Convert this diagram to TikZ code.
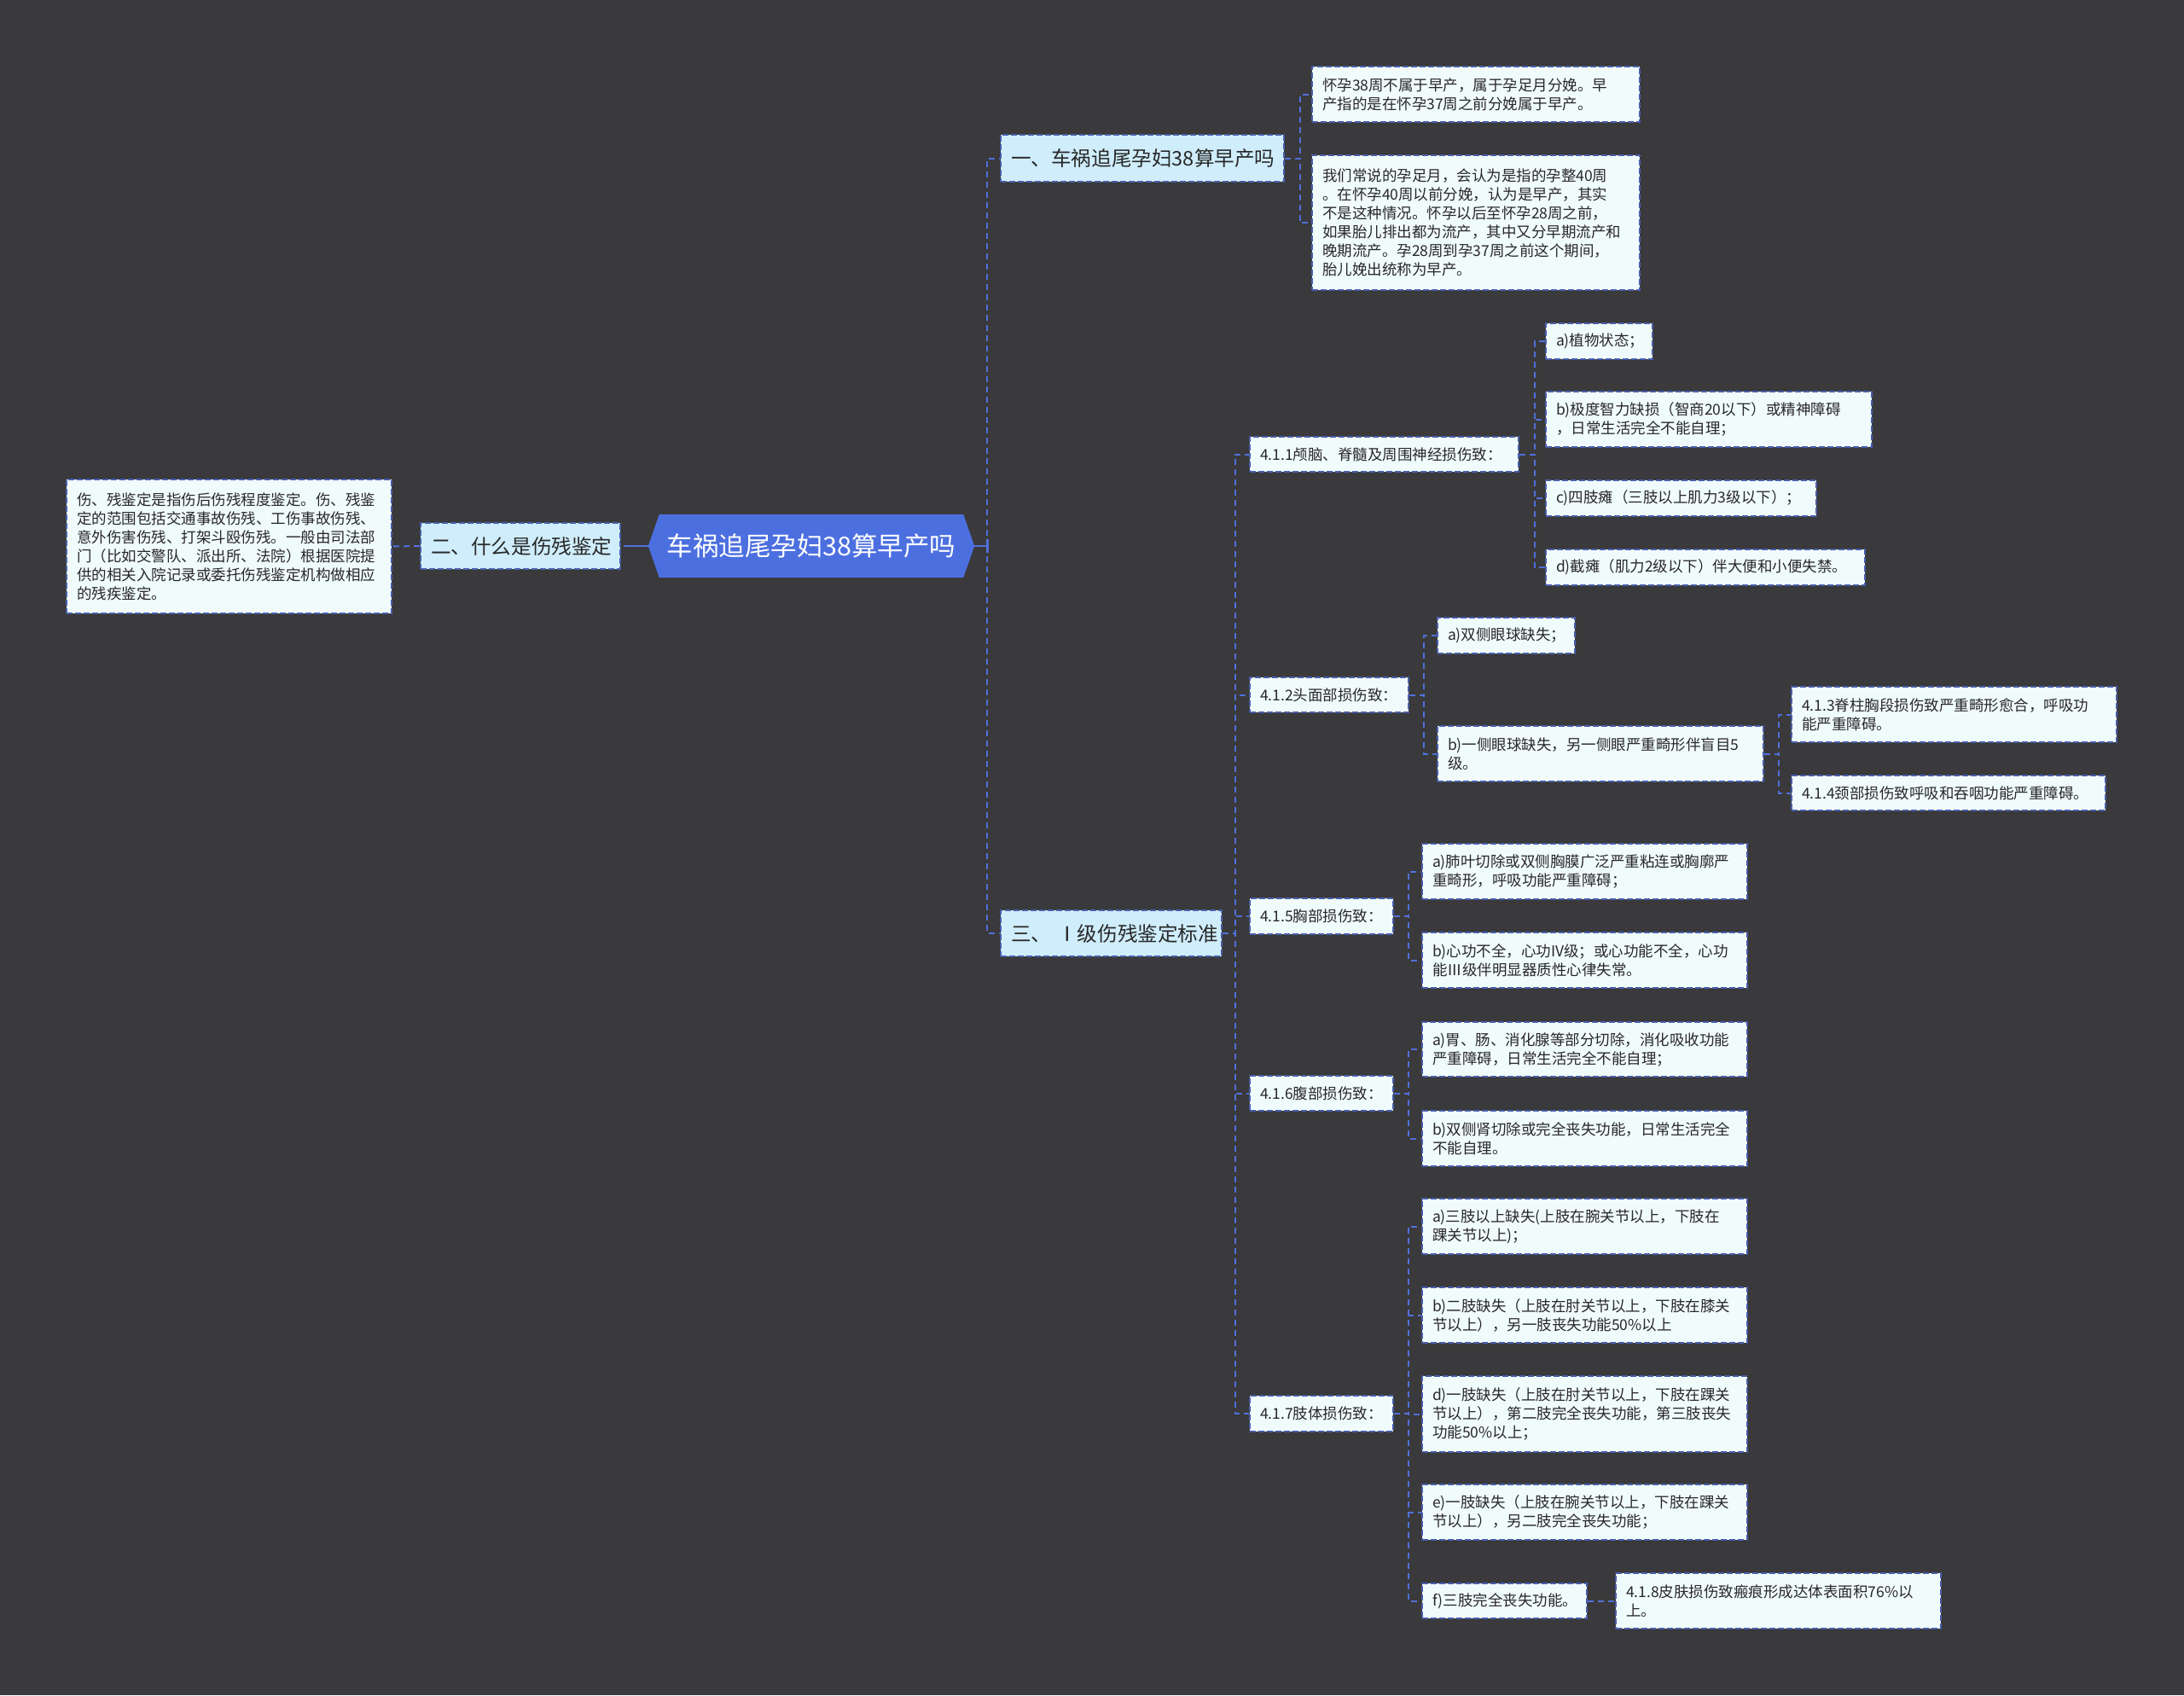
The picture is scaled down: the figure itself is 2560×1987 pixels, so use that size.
\documentclass[tikz,border=0pt]{standalone}
\usepackage{fontspec}
\setmainfont{Noto Sans CJK SC}
\usetikzlibrary{backgrounds}
\definecolor{bgc}{RGB}{58,57,59}
\definecolor{rootfill}{RGB}{76,111,224}
\definecolor{branchfill}{RGB}{207,237,251}
\definecolor{leaffill}{RGB}{240,251,252}
\definecolor{bordc}{RGB}{72,94,172}
\definecolor{connc}{RGB}{80,112,220}
\definecolor{txtc}{RGB}{40,40,40}
\tikzset{
  mmbox/.style={rectangle, draw=bordc, line width=1.6pt, dash pattern=on 7pt off 3pt, align=left, inner xsep=12pt, inner ysep=0pt, text=txtc},
  leafbox/.style={mmbox, fill=leaffill, font=\fontsize{17.5}{22}\selectfont},
  branchbox/.style={mmbox, fill=branchfill, font=\fontsize{23.6}{28}\selectfont},
  conn/.style={draw=connc, line width=2pt, dash pattern=on 7pt off 5pt},
  solidconn/.style={draw=connc, line width=2.6pt},
}
\begin{document}
\begin{tikzpicture}[x=1pt,y=-1pt]
\begin{pgfonlayer}{background}
\fill[bgc] (0,0) rectangle (2560,1987);
\end{pgfonlayer}
\useasboundingbox (0,0) rectangle (2560,1987);

% root
\node[rectangle, inner sep=0pt, minimum width=382, minimum height=74, text=white, font=\fontsize{30.5}{36}\selectfont] (root) at (951,640) {车祸追尾孕妇38算早产吗};
\begin{pgfonlayer}{background}
\fill[rootfill] (root.west) -- ([xshift=13pt]root.north west) -- ([xshift=-13pt]root.north east) -- (root.east) -- ([xshift=-13pt]root.south east) -- ([xshift=13pt]root.south west) -- cycle;
\end{pgfonlayer}

% branches
\node[branchbox, text width=308pt, minimum height=55] (b1) at (1339,185.5) {一、车祸追尾孕妇38算早产吗};
\node[branchbox, text width=210pt, minimum height=54] (b2) at (610,640) {二、什么是伤残鉴定};
\node[branchbox, text width=235pt, minimum height=54] (b3) at (1302.5,1094) {三、\kern0.3em Ⅰ级伤残鉴定标准};

% branch 1 leaves
\node[leafbox, text width=360pt, minimum height=65] (l1a) at (1730,110.5) {怀孕38周不属于早产，属于孕足月分娩。早\\产指的是在怀孕37周之前分娩属于早产。};
\node[leafbox, text width=360pt, minimum height=158] (l1b) at (1730,261) {我们常说的孕足月，会认为是指的孕整40周\\。在怀孕40周以前分娩，认为是早产，其实\\不是这种情况。怀孕以后至怀孕28周之前，\\如果胎儿排出都为流产，其中又分早期流产和\\晚期流产。孕28周到孕37周之前这个期间，\\胎儿娩出统称为早产。};

% branch 2 leaf
\node[leafbox, text width=357pt, minimum height=157] (l2) at (268.5,640.5) {伤、残鉴定是指伤后伤残程度鉴定。伤、残鉴\\定的范围包括交通事故伤残、工伤事故伤残、\\意外伤害伤残、打架斗殴伤残。一般由司法部\\门（比如交警队、派出所、法院）根据医院提\\供的相关入院记录或委托伤残鉴定机构做相应\\的残疾鉴定。};

% branch 3 subnodes
\node[leafbox, text width=291pt, minimum height=41] (n411) at (1622.5,532.5) {4.1.1颅脑、脊髓及周围神经损伤致：};
\node[leafbox, text width=162pt, minimum height=41] (n412) at (1558,814.5) {4.1.2头面部损伤致：};
\node[leafbox, text width=144pt, minimum height=42] (n415) at (1549,1074) {4.1.5胸部损伤致：};
\node[leafbox, text width=144pt, minimum height=41] (n416) at (1549,1281.5) {4.1.6腹部损伤致：};
\node[leafbox, text width=144pt, minimum height=42] (n417) at (1549,1657) {4.1.7肢体损伤致：};

% 4.1.1 children
\node[leafbox, text width=101pt, minimum height=42] (a411) at (1874.5,400) {a)植物状态；};
\node[leafbox, text width=358pt, minimum height=65] (b411) at (2003,491.5) {b)极度智力缺损（智商20以下）或精神障碍\\，日常生活完全不能自理；};
\node[leafbox, text width=293pt, minimum height=42] (c411) at (1970.5,584) {c)四肢瘫（三肢以上肌力3级以下）；};
\node[leafbox, text width=350pt, minimum height=42] (d411) at (1999,665) {d)截瘫（肌力2级以下）伴大便和小便失禁。};

% 4.1.2 children
\node[leafbox, text width=137pt, minimum height=42] (a412) at (1765.5,745) {a)双侧眼球缺失；};
\node[leafbox, text width=358pt, minimum height=65] (b412) at (1876,883.5) {b)一侧眼球缺失，另一侧眼严重畸形伴盲目5\\级。};
\node[leafbox, text width=357pt, minimum height=65] (n413) at (2290.5,837.5) {4.1.3脊柱胸段损伤致严重畸形愈合，呼吸功\\能严重障碍。};
\node[leafbox, text width=344pt, minimum height=41] (n414) at (2284,929.5) {4.1.4颈部损伤致呼吸和吞咽功能严重障碍。};

% 4.1.5 children
\node[leafbox, text width=357pt, minimum height=65] (a415) at (1857.5,1021.5) {a)肺叶切除或双侧胸膜广泛严重粘连或胸廓严\\重畸形，呼吸功能严重障碍；};
\node[leafbox, text width=357pt, minimum height=65] (b415) at (1857.5,1125.5) {b)心功不全，心功IV级；或心功能不全，心功\\能Ⅲ级伴明显器质性心律失常。};

% 4.1.6 children
\node[leafbox, text width=357pt, minimum height=64] (a416) at (1857.5,1230) {a)胃、肠、消化腺等部分切除，消化吸收功能\\严重障碍，日常生活完全不能自理；};
\node[leafbox, text width=357pt, minimum height=65] (b416) at (1857.5,1334.5) {b)双侧肾切除或完全丧失功能，日常生活完全\\不能自理。};

% 4.1.7 children
\node[leafbox, text width=357pt, minimum height=65] (a417) at (1857.5,1437.5) {a)三肢以上缺失(上肢在腕关节以上，下肢在\\踝关节以上)；};
\node[leafbox, text width=357pt, minimum height=65] (b417) at (1857.5,1541.5) {b)二肢缺失（上肢在肘关节以上，下肢在膝关\\节以上），另一肢丧失功能50\%以上};
\node[leafbox, text width=357pt, minimum height=89] (d417) at (1857.5,1657.5) {d)一肢缺失（上肢在肘关节以上，下肢在踝关\\节以上），第二肢完全丧失功能，第三肢丧失\\功能50\%以上；};
\node[leafbox, text width=357pt, minimum height=65] (e417) at (1857.5,1772.5) {e)一肢缺失（上肢在腕关节以上，下肢在踝关\\节以上），另二肢完全丧失功能；};
\node[leafbox, text width=169pt, minimum height=41] (f417) at (1763.5,1876.5) {f)三肢完全丧失功能。};
\node[leafbox, text width=357pt, minimum height=65] (n418) at (2084.5,1876.5) {4.1.8皮肤损伤致瘢痕形成达体表面积76\%以\\上。};

% connectors
\begin{pgfonlayer}{background}
\draw[solidconn] (root.east) -- ++(15,0) coordinate (rj);
\draw[solidconn] ([yshift=-8pt]rj) -- ([yshift=8pt]rj);
\draw[conn] (rj) |- (b1.west);
\draw[conn] (rj) |- (b3.west);
\draw[solidconn] (root.west) -- ++(-22,0) coordinate (lj);
\draw[conn] (lj) -- (b2.east);
\draw[conn] (b2.west) -- (l2.east);
\foreach \c in {l1a,l1b} \draw[conn] (b1.east) -- ++(18,0) |- (\c.west);
\foreach \c in {n411,n412,n415,n416,n417} \draw[conn] (b3.east) -- ++(15,0) |- (\c.west);
\foreach \c in {a411,b411,c411,d411} \draw[conn] (n411.east) -- ++(18,0) |- (\c.west);
\foreach \c in {a412,b412} \draw[conn] (n412.east) -- ++(17,0) |- (\c.west);
\foreach \c in {n413,n414} \draw[conn] (b412.east) -- ++(17,0) |- (\c.west);
\foreach \c in {a415,b415} \draw[conn] (n415.east) -- ++(17,0) |- (\c.west);
\foreach \c in {a416,b416} \draw[conn] (n416.east) -- ++(17,0) |- (\c.west);
\foreach \c in {a417,b417,d417,e417,f417} \draw[conn] (n417.east) -- ++(17,0) |- (\c.west);
\draw[conn] (f417.east) -- (n418.west);
\end{pgfonlayer}
\end{tikzpicture}
\end{document}
